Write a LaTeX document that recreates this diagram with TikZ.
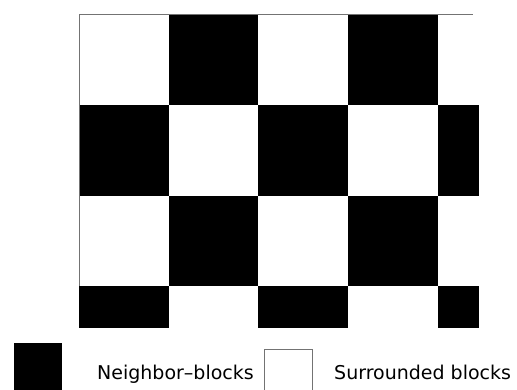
\documentclass[tikz,border=0pt]{standalone}
\usepackage{fontspec}
\setmainfont{DejaVu Sans}
\begin{document}
\begin{tikzpicture}[x=1pt,y=-1pt,
  blk/.style={fill=black,draw=none},
  frame/.style={draw=black!55,line width=1pt},
  legtext/.style={anchor=base west,inner sep=0pt,font=\fontsize{19}{22}\selectfont}]
\useasboundingbox (0,0) rectangle (517,390);
\fill[white] (0,0) rectangle (517,390);
% row 1: W B W B W
\fill[blk] (169,15) rectangle (258,105);
\fill[blk] (348,15) rectangle (438,105);
% row 2: B W B W B
\fill[blk] (79,105) rectangle (169,196);
\fill[blk] (258,105) rectangle (348,196);
\fill[blk] (438,105) rectangle (479,196);
% row 3: W B W B W
\fill[blk] (169,196) rectangle (258,286);
\fill[blk] (348,196) rectangle (438,286);
% row 4 (partial): B W B W B
\fill[blk] (79,286) rectangle (169,328);
\fill[blk] (258,286) rectangle (348,328);
\fill[blk] (438,286) rectangle (479,328);
% frame lines
\draw[frame] (79,286) -- (79,15) -- (473,15);
% legend
\node[blk,minimum width=48pt,minimum height=47pt,inner sep=0pt,anchor=north west] (nb) at (14,343) {};
\node[legtext] (nbt) at (97,379) {Neighbor–blocks};
\node[draw=black!55,line width=1pt,minimum width=48pt,minimum height=44pt,inner sep=0pt,anchor=north west] (sb) at (264,349) {};
\node[legtext] (sbt) at (334,379) {Surrounded blocks};
\end{tikzpicture}
\end{document}
